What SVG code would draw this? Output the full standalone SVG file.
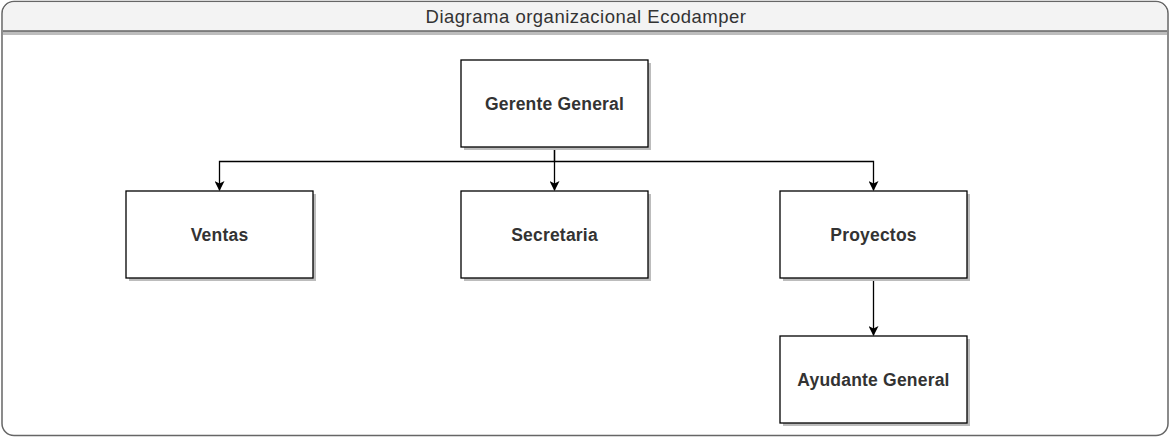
<svg xmlns="http://www.w3.org/2000/svg" width="1172" height="438" viewBox="0 0 1172 438">
  <style>
    .frame { fill: #ffffff; stroke: #666666; stroke-width: 1.5; }
    .header { fill: #f3f3f3; stroke: none; }
    .title { font-family: "Liberation Sans", Arial, sans-serif; font-size: 18.5px; letter-spacing: 0.5px; fill: #333333; text-anchor: middle; }
    .box { fill: #ffffff; stroke: #000000; stroke-width: 1.3; }
    .shadow { fill: #bcbcbc; }
    .label { font-family: "Liberation Sans", Arial, sans-serif; font-size: 17.5px; font-weight: bold; letter-spacing: 0.2px; fill: #333333; text-anchor: middle; }
    .edge { fill: none; stroke: #000000; stroke-width: 1.3; }
  </style>
  <defs>
    <marker id="arrow" viewBox="0 0 10 10" refX="9" refY="5" markerWidth="10" markerHeight="10" markerUnits="userSpaceOnUse" orient="auto">
      <path d="M0,0 L10,5 L0,10 L2.5,5 Z" fill="#000000"/>
    </marker>
  </defs>

  <!-- outer container with header -->
  <g id="container">
    <rect class="frame" x="2" y="1.5" width="1166" height="434" rx="12" ry="12"/>
    <path class="header" d="M3,31 V13 A11,11 0 0 1 14,2.3 H1156 A11,11 0 0 1 1167,13 V31 Z"/>
    <rect x="3" y="31" width="1164" height="4" fill="#bdbdbd"/>
    <line x1="3" y1="31" x2="1167" y2="31" stroke="#666666" stroke-width="1.5"/>
    <text class="title" x="586" y="23">Diagrama organizacional Ecodamper</text>
  </g>

  <g id="connectors">
    <path class="edge" d="M554.5,147 V161.5 H219.5 V190" marker-end="url(#arrow)"/>
    <path class="edge" d="M554.5,147 V190" marker-end="url(#arrow)"/>
    <path class="edge" d="M554.5,161.5 H873.5 V190" marker-end="url(#arrow)"/>
    <path class="edge" d="M873.5,278 V335" marker-end="url(#arrow)"/>
  </g>

  <g id="gerente">
    <rect class="shadow" x="464" y="63" width="187" height="87"/>
    <rect class="box" x="461" y="60" width="187" height="87"/>
    <text class="label" x="554.5" y="110">Gerente General</text>
  </g>
  <g id="ventas">
    <rect class="shadow" x="129" y="194" width="187" height="87"/>
    <rect class="box" x="126" y="191" width="187" height="87"/>
    <text class="label" x="219.5" y="241">Ventas</text>
  </g>
  <g id="secretaria">
    <rect class="shadow" x="464" y="194" width="187" height="87"/>
    <rect class="box" x="461" y="191" width="187" height="87"/>
    <text class="label" x="554.5" y="241">Secretaria</text>
  </g>
  <g id="proyectos">
    <rect class="shadow" x="783" y="194" width="187" height="87"/>
    <rect class="box" x="780" y="191" width="187" height="87"/>
    <text class="label" x="873.5" y="241">Proyectos</text>
  </g>
  <g id="ayudante">
    <rect class="shadow" x="783" y="339" width="187" height="87"/>
    <rect class="box" x="780" y="336" width="187" height="87"/>
    <text class="label" x="873.5" y="386">Ayudante General</text>
  </g>
</svg>
